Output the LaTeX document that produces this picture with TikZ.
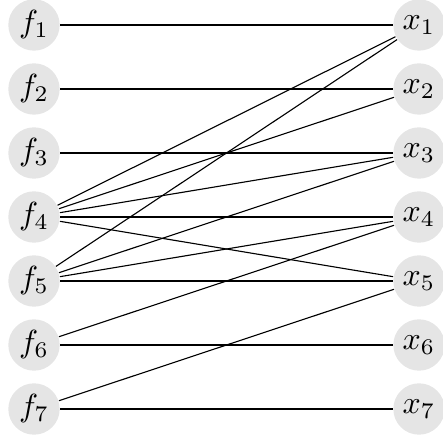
\documentclass[tikz,border=0pt]{standalone}
\begin{document}
\begin{tikzpicture}[var/.style={circle,fill=black!10,minimum size=.565cm,inner sep=0pt},e/.style={draw=black,line width=.35pt}]
\useasboundingbox (0,0) rectangle (4.873,-4.818);
\node[var] (f1) at (.374,-.275) {$f_1$}; \node[var] (x1) at (4.609,-.275) {$x_1$};
\node[var] (f2) at (.374,-.979) {$f_2$}; \node[var] (x2) at (4.609,-.979) {$x_2$};
\node[var] (f3) at (.374,-1.683) {$f_3$}; \node[var] (x3) at (4.609,-1.683) {$x_3$};
\node[var] (f4) at (.374,-2.387) {$f_4$}; \node[var] (x4) at (4.609,-2.387) {$x_4$};
\node[var] (f5) at (.374,-3.091) {$f_5$}; \node[var] (x5) at (4.609,-3.091) {$x_5$};
\node[var] (f6) at (.374,-3.795) {$f_6$}; \node[var] (x6) at (4.609,-3.795) {$x_6$};
\node[var] (f7) at (.374,-4.499) {$f_7$}; \node[var] (x7) at (4.609,-4.499) {$x_7$};
\draw[e] (f1)--(x1); \draw[e] (f2)--(x2); \draw[e] (f3)--(x3);
\draw[e] (f4)--(x1); \draw[e] (f4)--(x2); \draw[e] (f4)--(x3); \draw[e] (f4)--(x4); \draw[e] (f4)--(x5);
\draw[e] (f5)--(x1); \draw[e] (f5)--(x3); \draw[e] (f5)--(x4); \draw[e] (f5)--(x5);
\draw[e] (f6)--(x4); \draw[e] (f6)--(x6);
\draw[e] (f7)--(x5); \draw[e] (f7)--(x7);
\end{tikzpicture}
\end{document}
